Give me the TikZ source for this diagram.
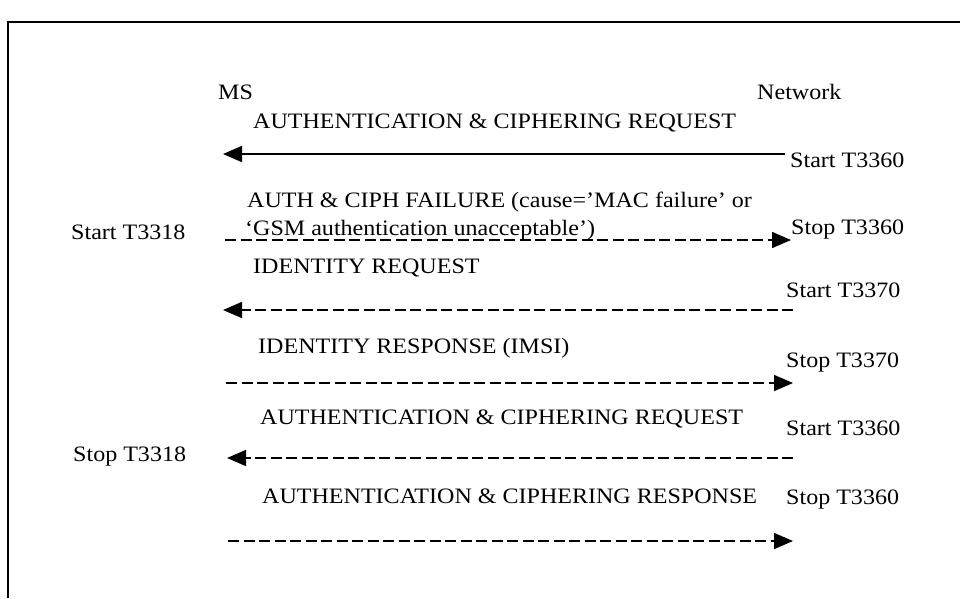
\documentclass[tikz,border=0pt]{standalone}
\usepackage{fontspec}
\setmainfont{Liberation Serif}[FakeStretch=1.093]
\usetikzlibrary{arrows.meta}
\begin{document}
\begin{tikzpicture}[x=1pt,y=-1pt,
  lbl/.style={anchor=base west,inner sep=0pt,font=\fontsize{22}{26}\selectfont},
  msg/.style={line width=1.5pt},
  dsh/.style={msg,dash pattern=on 11pt off 4.5pt},
  tip/.style={-{Triangle[length=19pt,width=16pt]}}]
\useasboundingbox (0,0) rectangle (960,598);
\draw[line width=1.5pt] (8,598) -- (8,22) -- (960,22);
% headers
\node[lbl] (ms) at (218,99) {MS};
\node[lbl] (net) at (757,99) {Network};
% row 1
\node[lbl] (l1) at (253,128) {AUTHENTICATION \& CIPHERING REQUEST};
\coordinate (a1r) at (785,154);
\coordinate (a1l) at (223,154);
\draw[msg,tip] (a1r) -- (a1l);
\node[lbl] (t1) at (790,167) {Start T3360};
% row 2
\node[lbl] (l2a) at (247,207) {AUTH \& CIPH FAILURE (cause=’MAC failure’ or};
\node[lbl] (l2b) at (245,235) {‘GSM authentication unacceptable’)};
\node[lbl] (m2) at (71,239) {Start T3318};
\coordinate (a2l) at (225,240);
\coordinate (a2r) at (791,240);
\draw[dsh,tip] (a2l) -- (a2r);
\node[lbl] (t2) at (791,234) {Stop T3360};
% row 3
\node[lbl] (l3) at (253,273) {IDENTITY REQUEST};
\node[lbl] (t3) at (786,297) {Start T3370};
\coordinate (a3r) at (793,310);
\coordinate (a3l) at (223,310);
\draw[dsh,tip] (a3r) -- (a3l);
% row 4
\node[lbl] (l4) at (258,353) {IDENTITY RESPONSE (IMSI)};
\node[lbl] (t4) at (786,367) {Stop T3370};
\coordinate (a4l) at (226,383);
\coordinate (a4r) at (793,383);
\draw[dsh,tip] (a4l) -- (a4r);
% row 5
\node[lbl] (l5) at (260,424) {AUTHENTICATION \& CIPHERING REQUEST};
\node[lbl] (t5) at (786,435) {Start T3360};
\node[lbl] (m5) at (73,461) {Stop T3318};
\coordinate (a5r) at (793,458);
\coordinate (a5l) at (227,458);
\draw[dsh,tip] (a5r) -- (a5l);
% row 6
\node[lbl] (l6) at (262,503) {AUTHENTICATION \& CIPHERING RESPONSE};
\node[lbl] (t6) at (786,504) {Stop T3360};
\coordinate (a6l) at (228,541);
\coordinate (a6r) at (793,541);
\draw[dsh,tip] (a6l) -- (a6r);
\end{tikzpicture}
\end{document}
